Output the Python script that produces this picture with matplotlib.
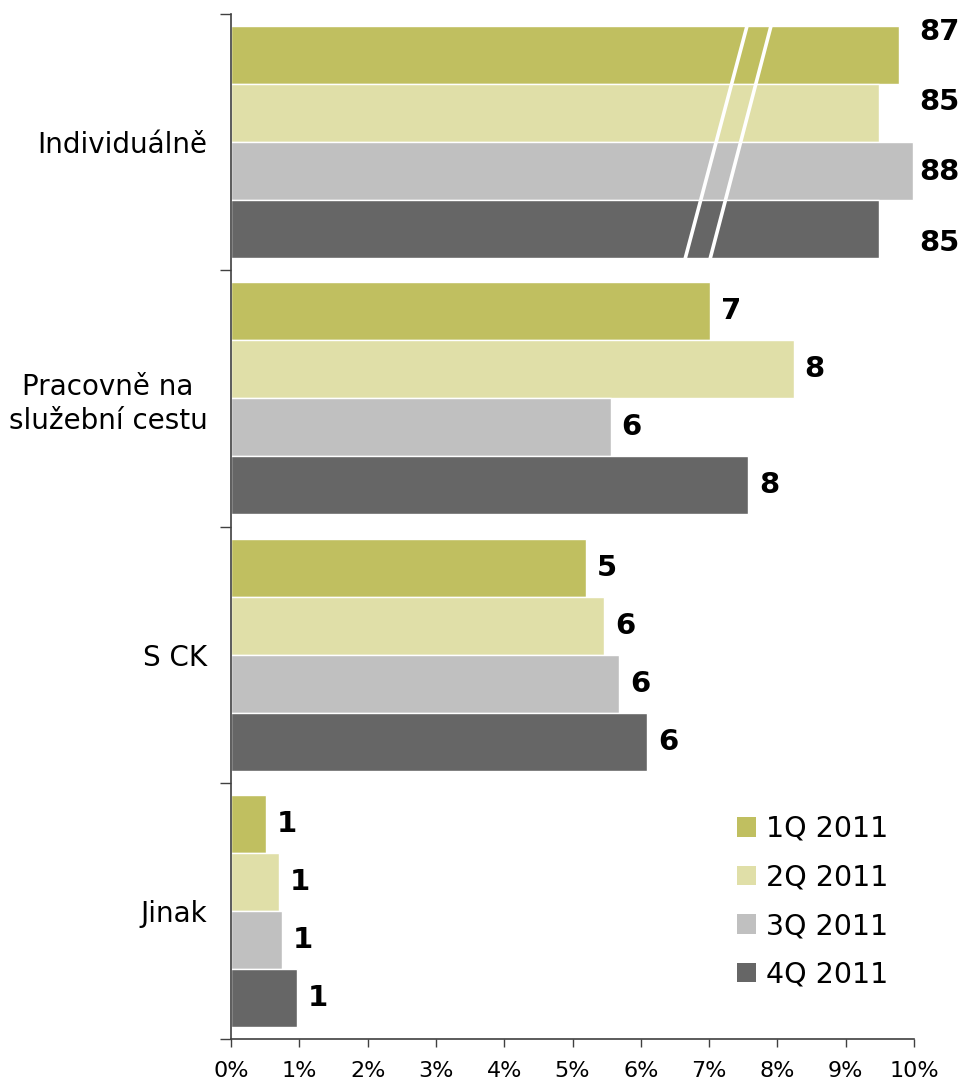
import matplotlib
matplotlib.use("Agg")
import matplotlib.pyplot as plt
import numpy as np
from matplotlib.patches import Patch

categories = ["Individuálně", "Pracovně na\nslužební cestu", "S CK", "Jinak"]
series = ["1Q 2011", "2Q 2011", "3Q 2011", "4Q 2011"]
colors = ["#C0BF60", "#E0DFA8", "#C0C0C0", "#666666"]

# bar lengths as drawn (percent); first category is drawn on a broken axis
q1 = [9.78, 7.02, 5.20, 0.51]
q2 = [9.49, 8.24, 5.46, 0.70]
q3 = [9.99, 5.56, 5.68, 0.75]
q4 = [9.49, 7.57, 6.09, 0.97]
# data labels (actual rounded values)
lab1 = ["87", "7", "5", "1"]
lab2 = ["85", "8", "6", "1"]
lab3 = ["88", "6", "6", "1"]
lab4 = ["85", "8", "6", "1"]
xticks = [0, 1, 2, 3, 4, 5, 6, 7, 8, 9, 10]
xticklabels = [f"{v}%" for v in xticks]

values = [q1, q2, q3, q4]
labels = [lab1, lab2, lab3, lab4]

fig = plt.figure(figsize=(9.6, 10.82), dpi=100)
ax = fig.add_axes([231/960, 1-1039/1082, (914-231)/960, (1039-14)/1082])

h = 58/256.25
y = np.arange(len(categories))
for i, (vals, labs, c) in enumerate(zip(values, labels, colors)):
    yy = y + (i - 1.5) * h
    ax.barh(yy, vals, height=h, color=c, edgecolor="white", linewidth=1.0, zorder=2)
    for j, (v, lab) in enumerate(zip(vals, labs)):
        if j == 0:
            off = [-0.09, -0.044, 0.004, 0.054][i]
            ax.text(10.07, yy[j] + off, lab, ha="left", va="center",
                    fontsize=21, fontweight="bold", clip_on=False)
        else:
            ax.text(v + 0.16, yy[j], lab, ha="left", va="center",
                    fontsize=21, fontweight="bold")

# axis break marks on the first category
top = -0.5 + 12/256.25
bot = 0.5 - 11/256.25
ax.plot([7.555, 6.647], [top, bot], color="white", lw=2.6, zorder=3, solid_capstyle="butt")
ax.plot([7.906, 7.013], [top, bot], color="white", lw=2.6, zorder=3, solid_capstyle="butt")

ax.set_xlim(0, 10)
ax.set_ylim(3.5, -0.5)
ax.set_xticks(xticks)
ax.set_xticklabels(xticklabels, fontsize=16)
ax.tick_params(axis="x", length=6, width=1, color="#404040", pad=10, direction="out")

ax.set_yticks([-0.5, 0.5, 1.5, 2.5, 3.5])
ax.set_yticklabels([])
ax.tick_params(axis="y", which="major", length=8, width=1, color="#404040")
ax.set_yticks(y, minor=True)
ax.set_yticklabels(categories, minor=True, fontsize=20, multialignment="center", linespacing=1.25)
ax.tick_params(axis="y", which="minor", length=0, pad=17)

for s in ["top", "right"]:
    ax.spines[s].set_visible(False)
for s in ["left", "bottom"]:
    ax.spines[s].set_color("#404040")
    ax.spines[s].set_linewidth(1.2)

handles = [Patch(facecolor=c, edgecolor="none") for c in colors]
leg = ax.legend(handles, series, loc="upper left", bbox_to_anchor=(737/960, 1-815/1082),
                bbox_transform=fig.transFigure, frameon=False, fontsize=20.5,
                handlelength=0.68, handleheight=0.68, handletextpad=0.35, labelspacing=0.72,
                borderaxespad=0, borderpad=0)

fig.savefig("out.png", dpi=100)
